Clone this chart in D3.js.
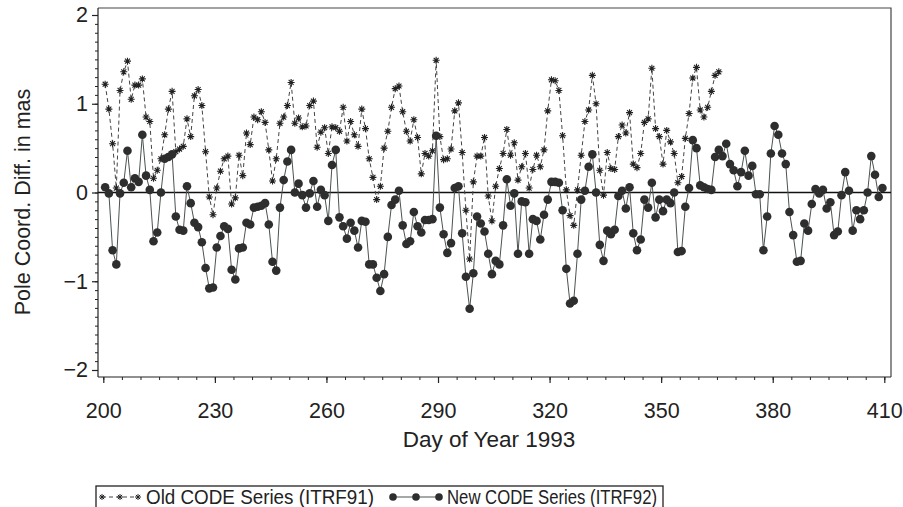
<!DOCTYPE html>
<html>
<head>
<meta charset="utf-8">
<script src="https://cdn.jsdelivr.net/npm/d3@7"></script>
<style>
  body { margin: 0; background: #fff; }
  svg { display: block; font-family: "Liberation Sans", Arial, sans-serif; }
</style>
</head>
<body>
<div id="chart"></div>
<script>
// first day of both series; values are daily, plotted at mid-day
const firstDay = 200;

// Old CODE Series (ITRF91), days 200..365, mas
const oldSeries = [
  1.22, 0.94, 0.55, 0.05, 1.15, 1.36, 1.48, 1.05, 1.21, 1.21,
  1.28, 0.85, 0.80, 0.16, 0.25, 0.38, 0.65, 0.94, 1.14, 0.46,
  0.49, 0.52, 0.83, 0.63, 1.09, 1.16, 0.98, 0.46, -0.05, -0.25,
  0.05, 0.24, 0.38, 0.41, -0.13, -0.06, 0.42, 0.19, 0.67, 0.54,
  0.85, 0.82, 0.91, 0.79, 0.48, 0.13, 0.38, 0.78, 0.85, 0.98,
  1.24, 0.78, 0.84, 0.74, 0.75, 0.98, 1.03, 0.51, 0.68, 0.73,
  0.44, 0.74, 0.73, 0.69, 0.96, 0.58, 0.80, 0.65, 0.52, 0.94,
  0.72, 0.38, 0.17, -0.08, 0.07, 0.50, 0.69, 0.96, 1.17, 1.20,
  0.91, 0.69, 0.58, 0.82, 0.62, 0.21, 0.44, 0.41, 0.47, 1.49,
  0.63, 0.37, 0.38, 0.49, 0.92, 1.01, 0.45, -0.20, -0.75, 0.12,
  0.41, 0.41, 0.62, -0.04, -0.32, 0.07, 0.27, 0.44, 0.71, 0.42,
  0.56, 0.14, 0.29, 0.44, 0.05, 0.26, 0.42, 0.29, 0.48, 0.92,
  1.27, 1.26, 1.15, 0.64, 0.03, -0.26, -0.37, 0.03, 0.42, 0.80,
  0.93, 1.32, 1.00, 0.25, -0.03, 0.45, 0.27, 0.26, 0.63, 0.76,
  0.67, 0.90, 0.32, 0.28, 0.44, 0.79, 0.83, 1.40, 0.72, 0.63,
  0.32, 0.70, 0.57, 0.44, 0.11, 0.18, 0.61, 0.89, 1.29, 1.41,
  0.93, 0.85, 0.96, 1.14, 1.32, 1.36
];

// New CODE Series (ITRF92), days 200..409, mas
const newSeries = [
  0.06, -0.01, -0.65, -0.81, -0.01, 0.11, 0.47, 0.06, 0.16, 0.12,
  0.65, 0.19, 0.03, -0.55, -0.45, 0.00, 0.38, 0.40, 0.43, -0.27,
  -0.42, -0.43, 0.07, -0.12, -0.34, -0.39, -0.56, -0.85, -1.08, -1.07,
  -0.62, -0.49, -0.38, -0.41, -0.87, -0.98, -0.63, -0.62, -0.34, -0.36,
  -0.17, -0.16, -0.15, -0.12, -0.36, -0.78, -0.88, -0.17, 0.14, 0.35,
  0.48, 0.00, 0.10, -0.03, -0.17, -0.01, 0.13, -0.16, 0.03, -0.03,
  -0.32, 0.31, 0.48, -0.28, -0.38, -0.52, -0.34, -0.43, -0.62, -0.32,
  -0.33, -0.81, -0.81, -0.96, -1.11, -0.92, -0.50, -0.14, -0.08, 0.02,
  -0.37, -0.58, -0.55, -0.22, -0.38, -0.45, -0.31, -0.31, -0.30, 0.64,
  -0.17, -0.47, -0.68, -0.57, 0.05, 0.07, -0.46, -0.95, -1.31, -0.91,
  -0.27, -0.35, -0.44, -0.69, -0.92, -0.77, -0.81, -0.37, 0.15, -0.15,
  -0.01, -0.69, -0.10, -0.11, -0.69, -0.30, -0.32, -0.53, -0.25, -0.08,
  0.12, 0.12, 0.11, -0.20, -0.86, -1.25, -1.22, -0.69, -0.08, 0.02,
  0.29, 0.43, 0.00, -0.59, -0.77, -0.43, -0.47, -0.42, -0.04, 0.02,
  -0.18, 0.06, -0.46, -0.65, -0.53, -0.08, -0.17, 0.11, -0.28, -0.08,
  -0.21, -0.08, -0.12, 0.00, -0.67, -0.66, -0.16, 0.05, 0.59, 0.50,
  0.08, 0.06, 0.04, 0.03, 0.40, 0.48, 0.41, 0.55, 0.32, 0.25,
  0.07, 0.23, 0.47, 0.19, 0.30, -0.02, -0.02, -0.65, -0.27, 0.44,
  0.75, 0.65, 0.44, 0.32, -0.22, -0.48, -0.78, -0.77, -0.35, -0.43,
  -0.13, 0.04, -0.01, 0.03, -0.18, -0.11, -0.48, -0.44, -0.03, 0.23,
  0.02, -0.43, -0.20, -0.30, -0.20, 0.00, 0.41, 0.20, -0.05, 0.05
];

const xTickLabels = [200, 230, 260, 290, 320, 350, 380, 410];
const yTickLabels = [-2, -1, 0, 1, 2];
const legendLabels = ["Old CODE Series (ITRF91)", "New CODE Series (ITRF92)"];

const W = 903, H = 507;
const frame = {left: 98, right: 891, top: 8, bottom: 377};

const svg = d3.select("#chart").append("svg")
    .attr("width", W)
    .attr("height", H);

svg.append("rect").attr("width", W).attr("height", H).attr("fill", "#fff");

const x = d3.scaleLinear().domain([200, 410]).range([103.3, 884.3]);
const y = d3.scaleLinear().domain([-2, 2]).range([370, 15]);

const ink = "#222";
const fontFam = "'Liberation Sans', Arial, sans-serif";

// frame (top and right sides)
svg.append("path")
    .attr("d", `M${frame.left},${frame.top}H${frame.right}V${frame.bottom}`)
    .attr("fill", "none").attr("stroke", "#444").attr("stroke-width", 1.2);

// Y axis: minor ticks every 0.1, major with labels
const yMinor = svg.append("g")
    .attr("transform", `translate(${frame.left},0)`)
    .call(d3.axisLeft(y).tickValues(d3.range(-20, 21).map(v => v / 10)).tickSize(3).tickFormat(""));
yMinor.select(".domain").attr("d", `M0,${frame.top}V${frame.bottom}`).attr("stroke", ink).attr("stroke-width", 1.2);
yMinor.selectAll("line").attr("stroke", ink);

const yAxis = svg.append("g")
    .attr("transform", `translate(${frame.left},0)`)
    .call(d3.axisLeft(y).tickValues(yTickLabels).tickSize(6).tickPadding(4).tickFormat(d3.format("d")));
yAxis.select(".domain").remove();
yAxis.selectAll("line").attr("stroke", ink).attr("stroke-width", 1.2);
yAxis.selectAll("text").attr("font-size", 21.5).attr("fill", ink).attr("font-family", fontFam);

// X axis: minor ticks every 5 days, labels every 30
const xMinor = svg.append("g")
    .attr("transform", `translate(0,${frame.bottom})`)
    .call(d3.axisBottom(x).tickValues(d3.range(200, 411, 5)).tickSize(3).tickFormat(""));
xMinor.select(".domain").attr("d", `M${frame.left},0H${frame.right}`).attr("stroke", ink).attr("stroke-width", 1.2);
xMinor.selectAll("line").attr("stroke", ink);

const xAxis = svg.append("g")
    .attr("transform", `translate(0,${frame.bottom})`)
    .call(d3.axisBottom(x).tickValues(xTickLabels).tickSize(6).tickPadding(20));
xAxis.select(".domain").remove();
xAxis.selectAll("line").attr("stroke", ink).attr("stroke-width", 1.2);
xAxis.selectAll("text").attr("font-size", 21.5).attr("fill", ink).attr("font-family", fontFam);

// axis titles
svg.append("text")
    .attr("x", 489).attr("y", 447)
    .attr("text-anchor", "middle")
    .attr("font-size", 22.5).attr("fill", ink)
    .text("Day of Year 1993");

svg.append("text")
    .attr("transform", "translate(30,202) rotate(-90)")
    .attr("text-anchor", "middle")
    .attr("font-size", 21.5).attr("fill", ink)
    .text("Pole Coord. Diff. in mas");

// zero reference line
svg.append("line")
    .attr("x1", frame.left).attr("x2", frame.right)
    .attr("y1", y(0)).attr("y2", y(0))
    .attr("stroke", "#111").attr("stroke-width", 1.6);

// asterisk marker path
function star(r) {
  const a = r * 0.7071;
  return `M0,${-r}V${r}M${-r},0H${r}M${-a},${-a}L${a},${a}M${-a},${a}L${a},${-a}`;
}

const oldData = oldSeries.map((v, i) => ({day: firstDay + i + 0.5, v}));
const newData = newSeries.map((v, i) => ({day: firstDay + i + 0.5, v}));

const line = d3.line().x(d => x(d.day)).y(d => y(d.v));

// old series: dashed line with asterisks
svg.append("path")
    .datum(oldData)
    .attr("d", line)
    .attr("fill", "none")
    .attr("stroke", "#444")
    .attr("stroke-width", 1)
    .attr("stroke-dasharray", "4,3");

svg.selectAll(".star")
    .data(oldData)
    .join("path")
    .attr("class", "star")
    .attr("transform", d => `translate(${x(d.day)},${y(d.v)})`)
    .attr("d", star(3.5))
    .attr("stroke", "#222")
    .attr("stroke-width", 1.1)
    .attr("fill", "none");

// new series: solid line with filled circles
svg.append("path")
    .datum(newData)
    .attr("d", line)
    .attr("fill", "none")
    .attr("stroke", "#4a5252")
    .attr("stroke-width", 1);

svg.selectAll(".dot")
    .data(newData)
    .join("circle")
    .attr("class", "dot")
    .attr("cx", d => x(d.day))
    .attr("cy", d => y(d.v))
    .attr("r", 4.3)
    .attr("fill", "#2e2e2e");

// legend
const lg = svg.append("g");
lg.append("rect")
    .attr("x", 96).attr("y", 486)
    .attr("width", 567).attr("height", 30)
    .attr("fill", "none").attr("stroke", ink).attr("stroke-width", 1.3);

const legY = 497;
lg.append("line")
    .attr("x1", 102).attr("x2", 138).attr("y1", legY).attr("y2", legY)
    .attr("stroke", "#444").attr("stroke-dasharray", "4,3");
lg.selectAll(".lstar")
    .data([102, 120, 138])
    .join("path")
    .attr("class", "lstar")
    .attr("transform", d => `translate(${d},${legY})`)
    .attr("d", star(3))
    .attr("stroke", "#222").attr("fill", "none");
lg.append("text")
    .attr("x", 146).attr("y", legY + 7)
    .attr("font-size", 20.5).attr("fill", ink)
    .attr("textLength", 228).attr("lengthAdjust", "spacingAndGlyphs")
    .text(legendLabels[0]);

lg.append("line")
    .attr("x1", 393).attr("x2", 439).attr("y1", legY).attr("y2", legY)
    .attr("stroke", "#4a5252");
lg.selectAll(".ldot")
    .data([393, 416, 439])
    .join("circle")
    .attr("class", "ldot")
    .attr("cx", d => d).attr("cy", legY).attr("r", 3.8)
    .attr("fill", "#2e2e2e");
lg.append("text")
    .attr("x", 447).attr("y", legY + 7)
    .attr("font-size", 20.5).attr("fill", ink)
    .attr("textLength", 210).attr("lengthAdjust", "spacingAndGlyphs")
    .text(legendLabels[1]);
</script>
</body>
</html>
